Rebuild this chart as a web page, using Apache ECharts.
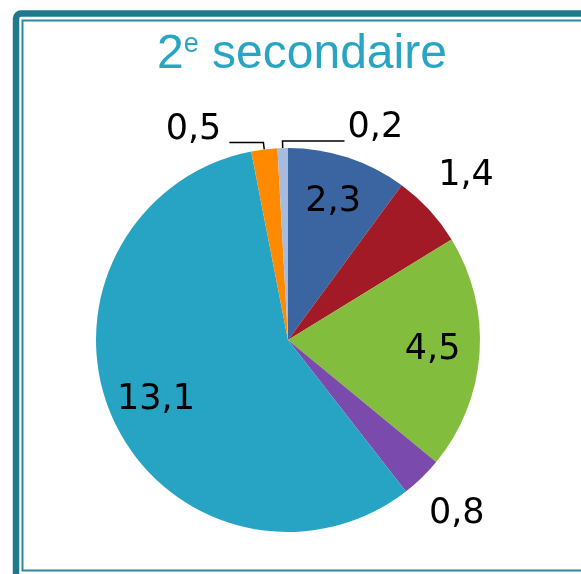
<!DOCTYPE html>
<html>
<head>
<meta charset="utf-8">
<script src="https://cdn.jsdelivr.net/npm/echarts@6/dist/echarts.min.js"></script>
<style>
  html, body { margin: 0; padding: 0; background: #fff; }
  #main { width: 581px; height: 574px; }
</style>
</head>
<body>
<div id="main"></div>
<script>
// slices, clockwise from 12 o'clock
const values = [2.3, 1.4, 4.5, 0.8, 13.1, 0.5, 0.2];
// where each value label goes: on the slice, just outside it, or on a leader line
const labelPlaces = ['inner', 'outer', 'inner', 'outer', 'inner', 'leader', 'leader'];
const leaderLengths = [0, 0, 0, 0, 0, 34, 62];
const rightLeader = 6; // the 0,2 label sits to the right of the top

var chartDom = document.getElementById('main');
var myChart = echarts.init(chartDom);

const center = [288, 340];
const fmt = (p) => String(p.value).replace('.', ',');
const clear = { color: 'rgba(0,0,0,0)' };
const labelFont = { color: '#000', fontFamily: 'DejaVu Sans', fontSize: 35 };

// transparent ring carrying one kind of labels at mid radius
function labelRing(place, radius) {
  return {
    type: 'pie',
    radius: radius,
    center: center,
    startAngle: 90,
    clockwise: true,
    silent: true,
    avoidLabelOverlap: false,
    emphasis: { disabled: true },
    itemStyle: { borderWidth: 0 },
    label: Object.assign({ position: 'inside', formatter: fmt }, labelFont),
    labelLine: { show: false },
    data: values.map((v, i) => ({
      value: v,
      itemStyle: clear,
      label: { show: labelPlaces[i] === place }
    }))
  };
}

const option = {
  animation: false,
  color: ['#3A65A0', '#A21A25', '#82BD3D', '#7B4AAD', '#27A4C3', '#FF8A00', '#A6BBDF'],
  title: {
    text: '{n|2}{s|e}{n| secondaire}',
    left: 157,
    top: 31,
    padding: 0,
    textStyle: {
      fontWeight: 'normal',
      rich: {
        n: { fontFamily: 'Liberation Sans', fontWeight: 'normal', fontSize: 48, lineHeight: 48, color: '#29A5C4' },
        s: { fontFamily: 'Liberation Sans', fontWeight: 'normal', fontSize: 27, lineHeight: 27, color: '#29A5C4', verticalAlign: 'top' }
      }
    }
  },
  graphic: [
    {
      type: 'rect',
      shape: { x: 16, y: 13.5, width: 800, height: 800, r: 5 },
      style: { fill: 'none', stroke: '#1F7A8B', lineWidth: 6.5 },
      silent: true
    },
    {
      type: 'rect',
      shape: { x: 22.5, y: 20.5, width: 800, height: 550 },
      style: { fill: 'none', stroke: '#2A8A9B', lineWidth: 2 },
      silent: true
    }
  ],
  series: [
    {
      type: 'pie',
      radius: 192,
      center: center,
      startAngle: 90,
      clockwise: true,
      silent: true,
      avoidLabelOverlap: false,
      emphasis: { disabled: true },
      itemStyle: { borderWidth: 0 },
      label: Object.assign({ position: 'outside', formatter: fmt }, labelFont),
      labelLine: { lineStyle: { color: '#000', width: 1.5 } },
      data: values.map((v, i) => ({
        value: v,
        label: { show: labelPlaces[i] === 'leader' },
        labelLine: { show: labelPlaces[i] === 'leader', length: 7, length2: leaderLengths[i] }
      })),
      labelLayout: function (p) {
        const pts = p.labelLinePoints;
        if (!pts || pts.length < 3) return {};
        const end = p.dataIndex === rightLeader
          ? [2 * pts[1][0] - pts[2][0], pts[2][1]]
          : pts[2];
        const toRight = end[0] > pts[1][0];
        return {
          x: end[0] + (toRight ? 3 : -8),
          y: end[1] - 13,
          align: toRight ? 'left' : 'right',
          verticalAlign: 'middle',
          labelLinePoints: [pts[0], pts[1], end]
        };
      }
    },
    labelRing('inner', [92, 192]),
    labelRing('outer', [192, 286])
  ]
};

myChart.setOption(option);
window.addEventListener('resize', () => myChart.resize());
</script>
</body>
</html>
